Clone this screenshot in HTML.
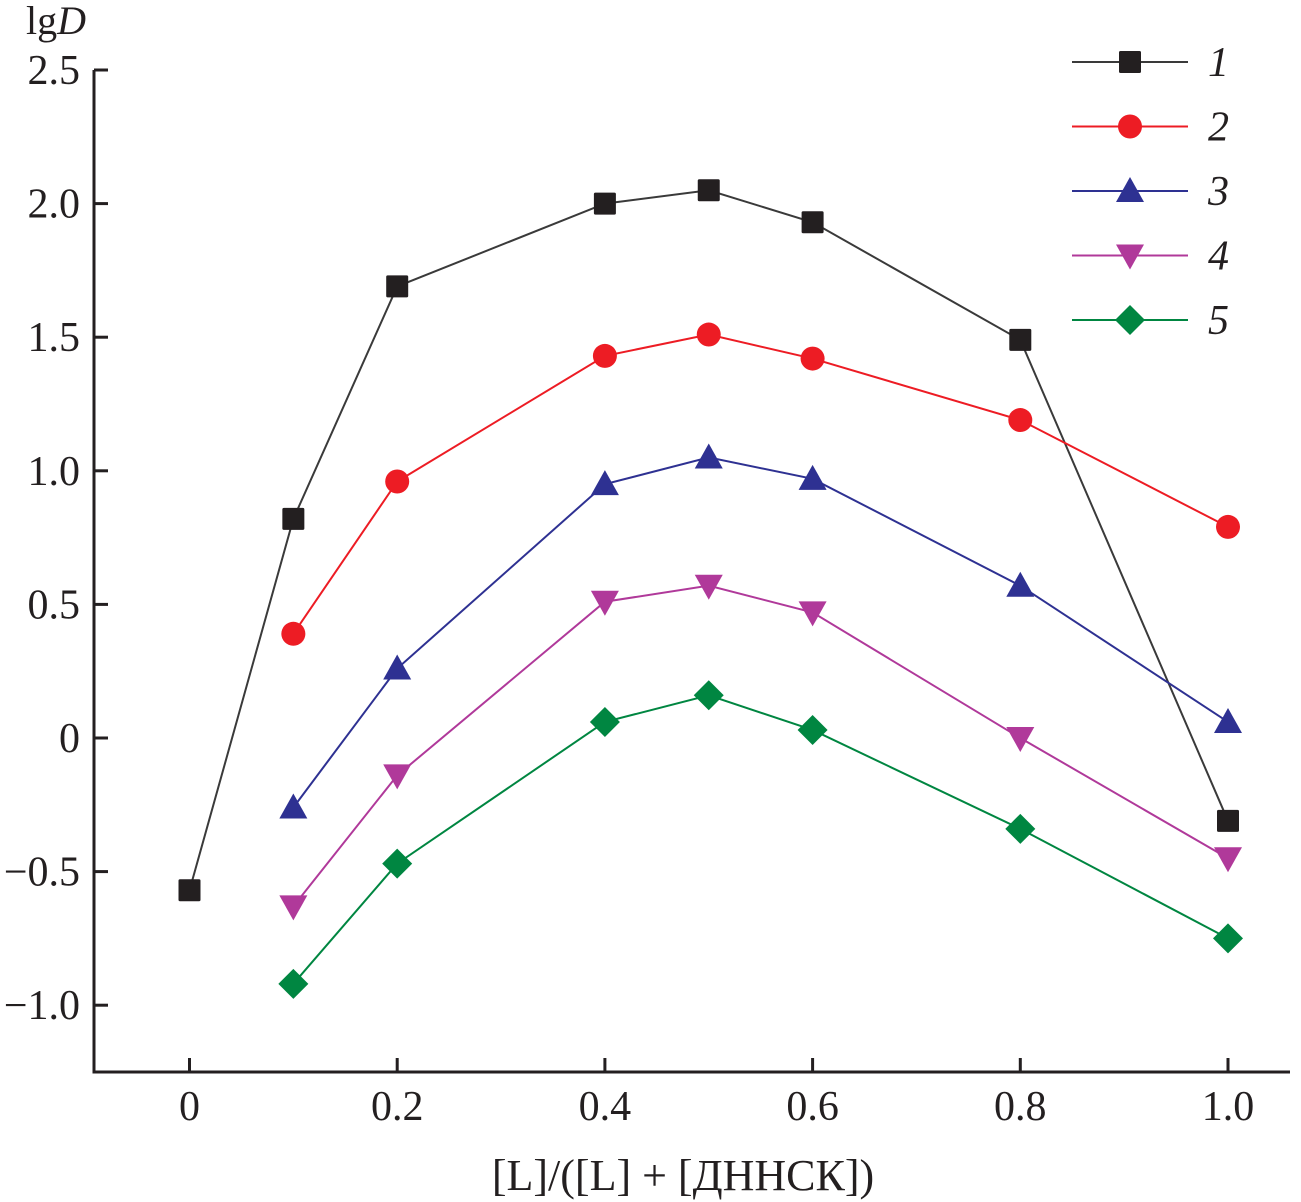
<!DOCTYPE html>
<html><head><meta charset="utf-8"><style>
html,body{margin:0;padding:0;background:#fff}
svg{display:block}
text{font-family:"Liberation Serif",serif;fill:#231f20}
</style></head><body>
<svg id="chart" width="1301" height="1202" viewBox="0 0 1301 1202"></svg>
<script>
const xVals=[0,0.1,0.2,0.4,0.5,0.6,0.8,1.0];
const s1=[-0.57,0.82,1.69,2.00,2.05,1.93,1.49,-0.31];
const s2=[null,0.39,0.96,1.43,1.51,1.42,1.19,0.79];
const s3=[null,-0.26,0.26,0.95,1.05,0.97,0.57,0.06];
const s4=[null,-0.63,-0.14,0.51,0.57,0.47,0.00,-0.45];
const s5=[null,-0.92,-0.47,0.06,0.16,0.03,-0.34,-0.75];
const seriesNames=["1","2","3","4","5"];
const xTicks=[0,0.2,0.4,0.6,0.8,1.0];
const xTickLabels=["0","0.2","0.4","0.6","0.8","1.0"];
const yTicks=[2.5,2.0,1.5,1.0,0.5,0,-0.5,-1.0];
const yTickLabels=["2.5","2.0","1.5","1.0","0.5","0","\u22120.5","\u22121.0"];

const NS="http://www.w3.org/2000/svg";
const svg=document.getElementById('chart');
const X=v=>189.5+1038.5*v;
const Y=v=>738-267.2*v;
function mk(tag,attrs,parent){const e=document.createElementNS(NS,tag);for(const k in attrs)e.setAttribute(k,attrs[k]);(parent||svg).appendChild(e);return e;}
const styles=[
 {c:"#231f20",m:"square",lc:"#3a3a3a"},
 {c:"#ed1c24",m:"circle",lc:"#ed1c24"},
 {c:"#2e3192",m:"tri",lc:"#2e3192"},
 {c:"#b0399a",m:"itri",lc:"#b0399a"},
 {c:"#008641",m:"diamond",lc:"#008641"}];
function marker(m,x,y,c,g){
 let e;
 if(m==="square")e=mk('rect',{x:x-11,y:y-11,width:22,height:22,fill:c,rx:1.5},g);
 else if(m==="circle")e=mk('circle',{cx:x,cy:y,r:12,fill:c},g);
 else if(m==="tri")e=mk('polygon',{points:`${x},${y-14} ${x+14},${y+11} ${x-14},${y+11}`,fill:c},g);
 else if(m==="itri")e=mk('polygon',{points:`${x-14},${y-11} ${x+14},${y-11} ${x},${y+14}`,fill:c},g);
 else e=mk('polygon',{points:`${x},${y-15} ${x+15},${y} ${x},${y+15} ${x-15},${y}`,fill:c},g);
 
 
 return e;
}
const ax=mk('path',{d:"M94,70 V1072 H1290",fill:"none",stroke:"#231f20","stroke-width":3});


yTicks.forEach((t,i)=>{
 const l=mk('line',{x1:94,x2:108,y1:Y(t),y2:Y(t),stroke:"#231f20","stroke-width":3});
 
 
 const tx=mk('text',{x:80,y:Y(t)+14,"text-anchor":"end","font-size":42});
 tx.textContent=yTickLabels[i];
 
 
});
xTicks.forEach((t,i)=>{
 const l=mk('line',{x1:X(t),x2:X(t),y1:1058,y2:1072,stroke:"#231f20","stroke-width":3});
 
 
 const tx=mk('text',{x:X(t),y:1120,"text-anchor":"middle","font-size":42});
 tx.textContent=xTickLabels[i];
 
 
});
const yt=mk('text',{x:26,y:34,"font-size":40});
yt.innerHTML='lg<tspan font-style="italic">D</tspan>';


const xt=mk('text',{x:683,y:1190,"text-anchor":"middle","font-size":44});
xt.textContent='[L]/([L] + [ДННСК])';


[s1,s2,s3,s4,s5].forEach((s,si)=>{
 const st=styles[si];
 const g=mk('g',{});
 
 
 const pts=[];
 s.forEach((v,i)=>{if(v!==null)pts.push([X(xVals[i]),Y(v)]);});
 const pl=mk('polyline',{points:pts.map(p=>p.join(',')).join(' '),fill:"none",stroke:st.lc,"stroke-width":2},g);
 
 
 pts.forEach(p=>marker(st.m,p[0],p[1],st.c,g));
 const ly=62+64.5*si;
 const lg=mk('g',{});
 
 
 mk('line',{x1:1072,x2:1188,y1:ly,y2:ly,stroke:st.lc,"stroke-width":2},lg);
 marker(st.m,1130,ly,st.c,lg);
 const t=mk('text',{x:1208,y:ly+14,"font-size":42,"font-style":"italic"},lg);
 t.textContent=seriesNames[si];
});
</script>
</body></html>
